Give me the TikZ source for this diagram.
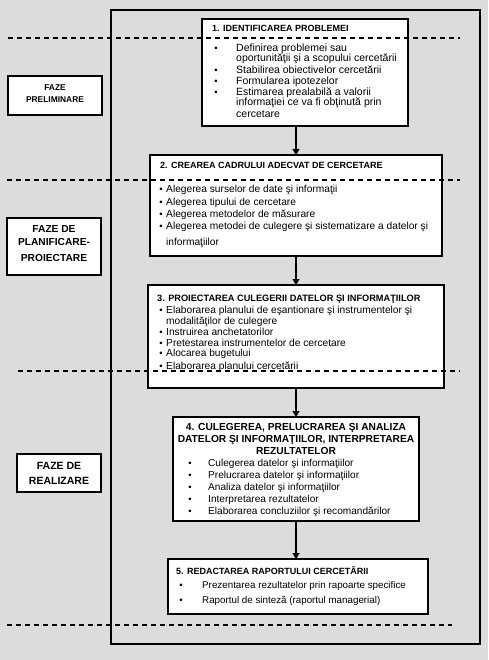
\documentclass[tikz,border=0pt]{standalone}
\usepackage{fontspec}
\setmainfont{Liberation Sans}
\usetikzlibrary{arrows.meta}
\definecolor{bg}{RGB}{220,220,220}
\tikzset{
  box/.style={draw=black,fill=white,line width=1.1pt},
  dline/.style={draw=black,line width=1.1pt,dash pattern=on 5pt off 4pt},
  flow/.style={draw=black,line width=1.1pt,-{Triangle[width=7pt,length=6pt]}},
  txt/.style={anchor=base west,inner sep=0pt,font=\fontsize{10.2}{11}\selectfont},
  ttl/.style={anchor=base west,inner sep=0pt,font=\fontsize{9}{11}\selectfont\bfseries},
  ctl/.style={anchor=base,inner sep=0pt,font=\fontsize{10.2}{11}\selectfont\bfseries},
  bul/.style={anchor=base,inner sep=0pt,font=\fontsize{9.5}{11}\selectfont},
}
\begin{document}
\begin{tikzpicture}[x=1pt,y=-1pt]
\useasboundingbox (0,0) rectangle (488,660);
\fill[bg] (0,0) rectangle (488,660);
% outer frame
\draw[line width=1.1pt] (111,10) rectangle (480,644);
% boxes
\path[box] (202,19) rectangle (408,126);
\path[box] (150,155) rectangle (442,256);
\path[box] (148,285) rectangle (444,388);
\path[box] (173,417) rectangle (419,521);
\path[box] (168,559) rectangle (428,614);
\node[box,minimum width=94pt,minimum height=39pt,inner sep=0pt] (f1) at (55,95.5) {};
\node[box,minimum width=94pt,minimum height=57pt,inner sep=0pt] (f2) at (54,246.5) {};
\node[box,minimum width=84pt,minimum height=38pt,inner sep=0pt] (f3) at (59,473) {};
% dashed phase separators
\path[dline] (8,38) -- (460,38);
\path[dline] (7,180) -- (460,180);
\path[dline] (18,371) -- (460,371);
\path[dline] (7,625) -- (452,625);
% phase labels
\node[ctl,font=\fontsize{8.4}{10}\selectfont\bfseries] (f1a) at (55,91) {FAZE};
\node[ctl,font=\fontsize{8.4}{10}\selectfont\bfseries] (f1b) at (55,103) {PRELIMINARE};
\node[ctl] (f2a) at (54,232) {FAZE DE};
\node[ctl] (f2b) at (54,245) {PLANIFICARE-};
\node[ctl] (f2c) at (54,261) {PROIECTARE};
\node[ctl,font=\fontsize{10.5}{11}\selectfont\bfseries] (f3a) at (59,469) {FAZE DE};
\node[ctl,font=\fontsize{10.5}{11}\selectfont\bfseries] (f3b) at (59,484) {REALIZARE};
% box 1
\node[ttl] (t1) at (212,32) {1. IDENTIFICAREA PROBLEMEI};
\node[bul] (u11) at (216,52) {•};
\node[txt,font=\fontsize{10.5}{11}\selectfont] (l11) at (236,52) {Definirea problemei sau};
\node[txt,font=\fontsize{10.5}{11}\selectfont] (l12) at (236,62) {oportunităţii şi a scopului cercetării};
\node[bul] (u12) at (216,74) {•};
\node[txt,font=\fontsize{10.5}{11}\selectfont] (l13) at (236,74) {Stabilirea obiectivelor cercetării};
\node[bul] (u13) at (216,85) {•};
\node[txt,font=\fontsize{10.5}{11}\selectfont] (l14) at (236,85) {Formularea ipotezelor};
\node[bul] (u14) at (216,96) {•};
\node[txt,font=\fontsize{10.5}{11}\selectfont] (l15) at (236,96) {Estimarea prealabilă a valorii};
\node[txt,font=\fontsize{10.5}{11}\selectfont] (l16) at (236,106) {informaţiei ce va fi obţinută prin};
\node[txt,font=\fontsize{10.5}{11}\selectfont] (l17) at (236,118) {cercetare};
% box 2
\node[ttl] (t2) at (160,169) {2. CREAREA CADRULUI ADECVAT DE CERCETARE};
\node[bul] (u21) at (161,193) {•};
\node[txt] (l21) at (166,193) {Alegerea surselor de date şi informaţii};
\node[bul] (u22) at (161,206) {•};
\node[txt] (l22) at (166,206) {Alegerea tipului de cercetare};
\node[bul] (u23) at (161,217) {•};
\node[txt] (l23) at (166,217) {Alegerea metodelor de măsurare};
\node[bul] (u24) at (161,229) {•};
\node[txt] (l24) at (166,229) {Alegerea metodei de culegere şi sistematizare a datelor şi};
\node[txt] (l25) at (166,245) {informaţiilor};
% box 3
\node[ttl,font=\fontsize{9.2}{11}\selectfont\bfseries] (t3) at (157,301) {3. PROIECTAREA CULEGERII DATELOR ŞI INFORMAŢIILOR};
\node[bul] (u31) at (161,313) {•};
\node[txt] (l31) at (166,313) {Elaborarea planului de eşantionare şi instrumentelor şi};
\node[txt] (l32) at (166,324) {modalităţilor de culegere};
\node[bul] (u32) at (161,335) {•};
\node[txt] (l33) at (166,335) {Instruirea anchetatorilor};
\node[bul] (u33) at (161,346) {•};
\node[txt] (l34) at (166,346) {Pretestarea instrumentelor de cercetare};
\node[bul] (u34) at (161,356) {•};
\node[txt] (l35) at (166,356) {Alocarea bugetului};
\node[bul] (u35) at (161,369) {•};
\node[txt] (l36) at (166,369) {Elaborarea planului cercetării};
% box 4
\node[ctl] (t4a) at (296,430) {4. CULEGEREA, PRELUCRAREA ŞI ANALIZA};
\node[ctl] (t4b) at (296,442) {DATELOR ŞI INFORMAŢIILOR, INTERPRETAREA};
\node[ctl] (t4c) at (296,454) {REZULTATELOR};
\node[bul] (u41) at (190,466) {•};
\node[txt,font=\fontsize{10.1}{11}\selectfont] (l41) at (208,466) {Culegerea datelor şi informaţiilor};
\node[bul] (u42) at (190,478) {•};
\node[txt,font=\fontsize{10.1}{11}\selectfont] (l42) at (208,478) {Prelucrarea datelor şi informaţiilor};
\node[bul] (u43) at (190,490) {•};
\node[txt,font=\fontsize{10.1}{11}\selectfont] (l43) at (208,490) {Analiza datelor şi informaţiilor};
\node[bul] (u44) at (190,502) {•};
\node[txt,font=\fontsize{10.1}{11}\selectfont] (l44) at (208,502) {Interpretarea rezultatelor};
\node[bul] (u45) at (190,514) {•};
\node[txt,font=\fontsize{10.1}{11}\selectfont] (l45) at (208,514) {Elaborarea concluziilor şi recomandărilor};
% box 5
\node[ttl] (t5) at (176,574) {5. REDACTAREA RAPORTULUI CERCETĂRII};
\node[bul] (u51) at (181,588) {•};
\node[txt,font=\fontsize{9.8}{11}\selectfont] (l51) at (202,588) {Prezentarea rezultatelor prin rapoarte specifice};
\node[bul] (u52) at (181,603) {•};
\node[txt,font=\fontsize{9.8}{11}\selectfont] (l52) at (202,603) {Raportul de sinteză (raportul managerial)};
% connectors
\coordinate (b1s) at (296,126);
\coordinate (b2n) at (296,155);
\coordinate (b2s) at (296,256);
\coordinate (b3n) at (296,285);
\coordinate (b3s) at (296,388);
\coordinate (b4n) at (296,417);
\coordinate (b4s) at (296,521);
\coordinate (b5n) at (296,559);
\draw[flow] (b1s) -- (b2n);
\draw[flow] (b2s) -- (b3n);
\draw[flow] (b3s) -- (b4n);
\draw[flow] (b4s) -- (b5n);
\end{tikzpicture}
\end{document}
